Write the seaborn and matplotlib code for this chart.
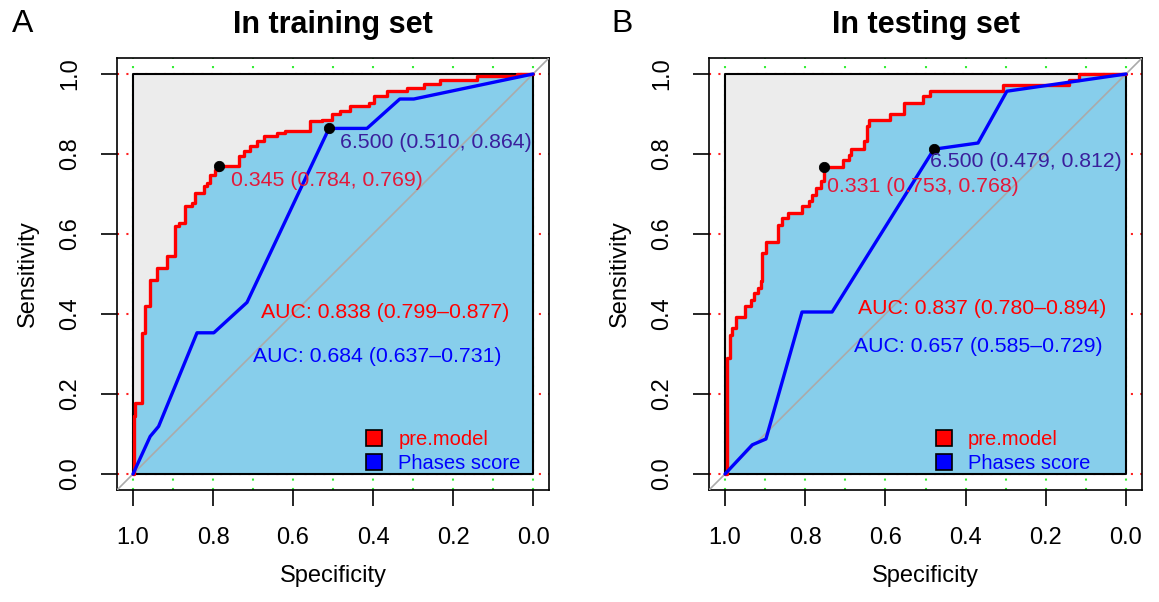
import matplotlib
matplotlib.use("Agg")
import matplotlib.pyplot as plt
from matplotlib.lines import Line2D
import numpy as np
import pandas as pd
import seaborn as sns

# ---------------- data ----------------
panel_letters = ["A", "B"]
panel_titles = ["In training set", "In testing set"]
legend_labels = ["pre.model", "Phases score"]

# training set, pre.model ROC corners (specificity, sensitivity)
train_pre_spec = [1.0, 0.998, 0.994, 0.978, 0.970, 0.957, 0.940, 0.915, 0.895, 0.886,
                  0.870, 0.853, 0.845, 0.823, 0.815, 0.807, 0.794, 0.784, 0.736, 0.723,
                  0.707, 0.690, 0.673, 0.640, 0.619, 0.557, 0.527, 0.502, 0.482, 0.457,
                  0.411, 0.398, 0.365, 0.315, 0.273, 0.232, 0.140, 0.040, 0.0]
train_pre_sens = [0.0, 0.0, 0.144, 0.178, 0.353, 0.419, 0.486, 0.515, 0.544, 0.619,
                  0.628, 0.669, 0.678, 0.703, 0.719, 0.728, 0.748, 0.761, 0.769, 0.794,
                  0.807, 0.819, 0.832, 0.844, 0.853, 0.857, 0.883, 0.886, 0.900, 0.907,
                  0.919, 0.928, 0.944, 0.957, 0.965, 0.976, 0.984, 0.994, 1.0]
# training set, Phases score ROC
train_phase_spec = [1.0, 0.957, 0.936, 0.840, 0.798, 0.715, 0.510, 0.415, 0.333, 0.298, 0.0]
train_phase_sens = [0.0, 0.094, 0.119, 0.353, 0.353, 0.429, 0.864, 0.864, 0.9375, 0.9375, 1.0]

# testing set, pre.model ROC corners
test_pre_spec = [1.0, 0.994, 0.988, 0.982, 0.973, 0.950, 0.936, 0.9275, 0.919, 0.911,
                 0.907, 0.898, 0.869, 0.857, 0.844, 0.807, 0.790, 0.782, 0.773, 0.761,
                 0.753, 0.707, 0.690, 0.686, 0.654, 0.646, 0.640, 0.588, 0.5525, 0.507,
                 0.490, 0.307, 0.142, 0.117, 0.0]
test_pre_sens = [0.0, 0.0, 0.290, 0.348, 0.365, 0.392, 0.421, 0.436, 0.4525, 0.465,
                 0.482, 0.5525, 0.579, 0.623, 0.640, 0.6525, 0.669, 0.682, 0.698, 0.715,
                 0.732, 0.768, 0.786, 0.798, 0.8125, 0.832, 0.869, 0.884, 0.900, 0.9275,
                 0.944, 0.957, 0.973, 0.986, 1.0]
# testing set, Phases score ROC
test_phase_spec = [1.0, 0.932, 0.898, 0.808, 0.733, 0.479, 0.369, 0.297, 0.0]
test_phase_sens = [0.0, 0.073, 0.0875, 0.405, 0.405, 0.812, 0.8275, 0.957, 1.0]

# best thresholds: (threshold, specificity, sensitivity)
train_pre_best = (0.345, 0.784, 0.769)
train_phase_best = (6.500, 0.510, 0.864)
test_pre_best = (0.331, 0.753, 0.768)
test_phase_best = (6.500, 0.479, 0.812)

# AUC with 95% CI
train_pre_auc = (0.838, 0.799, 0.877)
train_phase_auc = (0.684, 0.637, 0.731)
test_pre_auc = (0.837, 0.780, 0.894)
test_phase_auc = (0.657, 0.585, 0.729)

x_ticks = [1.0, 0.8, 0.6, 0.4, 0.2, 0.0]
y_ticks = [0.0, 0.2, 0.4, 0.6, 0.8, 1.0]

# ---------------- style ----------------
sns.set_style("white")
plt.rcParams["font.family"] = ["Liberation Sans", "DejaVu Sans"]
plt.rcParams["text.color"] = "black"
plt.rcParams["axes.labelcolor"] = "black"
plt.rcParams["xtick.color"] = "black"
plt.rcParams["ytick.color"] = "black"

RED = "#ff0000"
BLUE = "#0000ff"
RED_T = "#e3183a"
BLUE_T = "#3a1f9c"
SKY = "#87ceeb"
GREY = "#ececec"

fig = plt.figure(figsize=(11.59, 6.02), dpi=100)
W, H = 1159, 602
axA = fig.add_axes([117 / W, 112 / H, 432 / W, 432 / H])
axB = fig.add_axes([709 / W, 112 / H, 433 / W, 432 / H])

panels = [
    dict(ax=axA, pre=(train_pre_spec, train_pre_sens), ph=(train_phase_spec, train_phase_sens),
         pre_best=train_pre_best, ph_best=train_phase_best,
         pre_auc=train_pre_auc, ph_auc=train_phase_auc,
         pre_txt=(0.755, 0.733), ph_txt=(0.483, 0.830),
         pre_auc_xy=(0.369, 0.405), ph_auc_xy=(0.390, 0.2925),
         leg_xy=(0.572, 0.040), letter_x=12),
    dict(ax=axB, pre=(test_pre_spec, test_pre_sens), ph=(test_phase_spec, test_phase_sens),
         pre_best=test_pre_best, ph_best=test_phase_best,
         pre_auc=test_pre_auc, ph_auc=test_phase_auc,
         pre_txt=(0.745, 0.720), ph_txt=(0.490, 0.7825),
         pre_auc_xy=(0.359, 0.4125), ph_auc_xy=(0.3675, 0.320),
         leg_xy=(0.519, 0.040), letter_x=611),
]

for i, p in enumerate(panels):
    ax = p["ax"]
    ax.set_xlim(1.04, -0.04)
    ax.set_ylim(-0.04, 1.04)

    # grid (dotted), mostly hidden by the panel fill
    for gx in np.arange(0, 1.01, 0.1):
        ax.axvline(gx, color="#33ee33", lw=1.5, ls=(0, (1, 3.5)), zorder=0.5)
    for gy in y_ticks:
        ax.axhline(gy, color="#ff2020", lw=1.5, ls=(0, (1, 3.5)), zorder=0.5)

    # background square of max AUC
    ax.fill_between([1.0, 0.0], [0, 0], [1, 1], color=GREY, lw=0, zorder=1)

    pre_df = pd.DataFrame({"spec": p["pre"][0], "sens": p["pre"][1]})
    ph_df = pd.DataFrame({"spec": p["ph"][0], "sens": p["ph"][1]})

    # AUC polygons
    ax.fill_between(ph_df["spec"], 0, ph_df["sens"], color=SKY, lw=0, zorder=2)
    ax.fill_between(pre_df["spec"], 0, pre_df["sens"], step="pre", color=SKY, lw=0, zorder=2)

    # diagonal reference line
    ax.plot([1.04, -0.04], [-0.04, 1.04], color="#aaaaaa", lw=1.2, zorder=3)

    # inner box
    ax.plot([1, 0, 0, 1, 1], [0, 0, 1, 1, 0], color="black", lw=1.5, zorder=4)

    # ROC curves
    sns.lineplot(data=pre_df, x="spec", y="sens", ax=ax, estimator=None, sort=False,
                 color=RED, lw=2.4, drawstyle="steps-pre", zorder=5)
    sns.lineplot(data=ph_df, x="spec", y="sens", ax=ax, estimator=None, sort=False,
                 color=BLUE, lw=2.4, zorder=5)

    # best thresholds
    best_df = pd.DataFrame({"spec": [p["pre_best"][1], p["ph_best"][1]],
                            "sens": [p["pre_best"][2], p["ph_best"][2]]})
    sns.scatterplot(data=best_df, x="spec", y="sens", ax=ax, color="black", s=55,
                    edgecolor="black", zorder=6)

    t, sp, se = p["pre_best"]
    ax.text(*p["pre_txt"], f"{t:.3f} ({sp:.3f}, {se:.3f})", color=RED_T, fontsize=15.3,
            ha="left", va="center", zorder=7)
    t, sp, se = p["ph_best"]
    ax.text(*p["ph_txt"], f"{t:.3f} ({sp:.3f}, {se:.3f})", color=BLUE_T, fontsize=15.3,
            ha="left", va="center", zorder=7)

    a, lo, hi = p["pre_auc"]
    ax.text(*p["pre_auc_xy"], f"AUC: {a:.3f} ({lo:.3f}\u2013{hi:.3f})", color=RED,
            fontsize=15.3, ha="center", va="center", zorder=7)
    a, lo, hi = p["ph_auc"]
    ax.text(*p["ph_auc_xy"], f"AUC: {a:.3f} ({lo:.3f}\u2013{hi:.3f})", color=BLUE,
            fontsize=15.3, ha="center", va="center", zorder=7)

    # legend
    handles = [Line2D([], [], ls="none", marker="s", markersize=11, markerfacecolor=c,
                      markeredgecolor="black", markeredgewidth=1.2) for c in (RED, BLUE)]
    leg = ax.legend(handles, legend_labels, loc="lower left", bbox_to_anchor=p["leg_xy"],
                    frameon=False, fontsize=14.5, handlelength=1.0, handletextpad=0.7,
                    labelspacing=0.25, borderpad=0, borderaxespad=0,
                    labelcolor=[RED, BLUE])
    leg.set_zorder(8)

    # axes styling
    ax.set_xticks(x_ticks)
    ax.set_xticklabels([f"{v:.1f}" for v in x_ticks])
    ax.set_yticks(y_ticks)
    ax.set_yticklabels([f"{v:.1f}" for v in y_ticks], rotation=90, va="center")
    ax.tick_params(axis="both", direction="out", length=11.5, width=1.2, labelsize=17,
                   color="black", labelcolor="black", pad=15, bottom=True, left=True)
    ax.tick_params(axis="y", pad=14)
    for s in ax.spines.values():
        s.set_visible(True)
        s.set_color("black")
        s.set_linewidth(1.2)
    ax.set_xlabel("Specificity", fontsize=17, labelpad=12, color="black")
    ax.set_ylabel("Sensitivity", fontsize=17, labelpad=15, color="black")
    ax.set_title(panel_titles[i], fontsize=22, fontweight="bold", pad=18, color="black")

    fig.text(p["letter_x"] / W, 1 - 24 / H, panel_letters[i], fontsize=23,
             ha="left", va="center", color="black")

fig.savefig("out.png", dpi=100)
